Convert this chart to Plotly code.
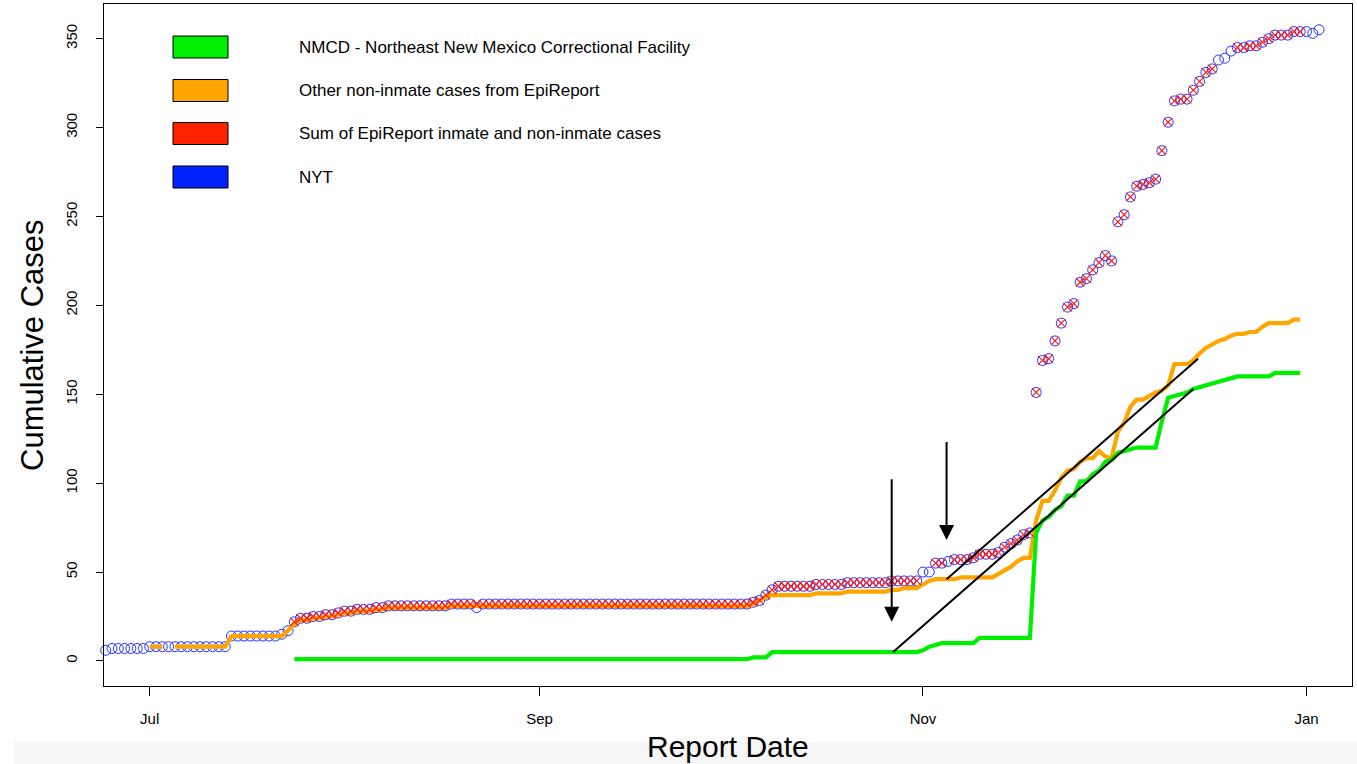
import plotly.graph_objects as go
import pandas as pd

# ---------------- data ----------------
nyt_start = "2020-06-24"
nyt_cases = [6, 7, 7, 7, 7, 7, 7,
             8, 8, 8, 8, 8, 8, 8, 8, 8, 8, 8, 8, 8,
             14, 14, 14, 14, 14, 14, 14, 14,
             15, 17,
             22, 24, 24, 25, 25, 26, 26, 27, 28, 28, 29, 29, 29, 30, 30, 31,
             31, 31, 31, 31, 31, 31, 31, 31, 31,
             32, 32, 32, 32, 30, 32, 32, 32, 32, 32, 32, 32, 32, 32, 32, 32,
             32, 32, 32, 32, 32, 32, 32, 32, 32, 32, 32, 32, 32, 32, 32, 32,
             32, 32, 32, 32, 32, 32, 32, 32, 32, 32, 32, 32, 32, 32, 32, 32,
             33, 34, 37, 40, 42, 42, 42, 42, 42, 42, 43, 43, 43, 43, 43,
             44, 44, 44, 44, 44, 44, 44, 45, 45, 45, 45, 45,
             50, 50, 55, 55, 56, 57, 57, 57, 58, 60, 60, 60, 61, 64, 66, 68, 71, 72,
             151, 169, 170, 180, 190, 199, 201, 213, 215, 220, 224, 228, 225, 247,
             251, 261, 267, 268, 269, 271, 287, 303, 315, 316, 316, 321, 326, 331, 333,
             338, 339, 343, 345, 345, 346, 346, 348, 350, 352, 352, 352, 354, 354,
             354, 353, 355]

epi_start = "2020-07-24"
sum_cases = [22, 24, 24, 25, 25, 26, 26, 27, 28, 28, 29, 29, 29, 30, 30, 31,
             31, 31, 31, 31, 31, 31, 31, 31, 31,
             32, 32, 32, 32, 32, 32, 32, 32, 32, 32, 32, 32, 32, 32, 32, 32,
             32, 32, 32, 32, 32, 32, 32, 32, 32, 32, 32, 32, 32, 32, 32, 32,
             32, 32, 32, 32, 32, 32, 32, 32, 32, 32, 32, 32, 32, 32, 32, 32,
             33, 34, 37, 40, 42, 42, 42, 42, 42, 42, 43, 43, 43, 43, 43,
             44, 44, 44, 44, 44, 44, 44, 45, 45, 45, 45, 45,
             None, None, 55, 55, None, 57, 57, 57, 58, 60, 60, 60, 61, 64, 66, 68, 71, 72,
             151, 169, 170, 180, 190, 199, 201, 213, 215, 220, 224, 228, 225, 247,
             251, 261, 267, 268, 269, 271, 287, 303, 315, 316, 316, 321, 326, 331, 333,
             None, None, None, 345, 345, 346, 346, 348, 350, 352, 352, 352, 354, 354]

other_start = "2020-07-01"
other_cases = [8, 8, 8, None, 8, 8, 8, 8, 8, 8, 8, 8, 8,
               14, 14, 14, 14, 14, 14, 14, 14, 14,
               17, 21,
               23, 23, 24, 24, 25, 25, 26, 27, 27, 28, 28, 28, 29, 29, 30,
               30, 30, 30, 30, 30, 30, 30, 30, 30,
               31, 31, 31, 31, 31, 31, 31, 31, 31, 31, 31, 31, 31, 31, 31, 31,
               31, 31, 31, 31, 31, 31, 31, 31, 31, 31, 31, 31, 31, 31, 31, 31,
               31, 31, 31, 31, 31, 31, 31, 31, 31, 31, 31, 31, 31, 31, 31, 31,
               32, 34, 36, 37, 37, 37, 37, 37, 37, 37, 38, 38, 38, 38, 38,
               39, 39, 39, 39, 39, 39, 39, 40, 40, 41, 41, 41,
               43, 45, 46, 46, 46, 46, 47, 47, 47, 47, 47, 47, 49, 51, 53, 56, 58, 58,
               79, 90, 90, 96, 103, 107, 108, 112, 114, 114, 118, 115, 114, 129,
               134, 143, 147, 147, 149, 151, 152, 155, 167, 167, 167, 169, 173, 176, 178,
               180, 181, 183, 184, 184, 185, 185, 188, 190, 190, 190, 190, 192, 192]

nmcd_start = "2020-07-24"
nmcd_cases = [1, 1, 1, 1, 1, 1, 1, 1, 1, 1, 1, 1, 1, 1, 1, 1, 1, 1, 1, 1,
              1, 1, 1, 1, 1, 1, 1, 1, 1, 1, 1, 1, 1, 1, 1, 1, 1, 1, 1, 1,
              1, 1, 1, 1, 1, 1, 1, 1, 1, 1, 1, 1, 1, 1, 1, 1, 1, 1, 1, 1,
              1, 1, 1, 1, 1, 1, 1, 1, 1, 1, 1, 1, 1,
              2, 2, 2,
              5, 5, 5, 5, 5, 5, 5, 5, 5, 5, 5, 5, 5, 5, 5, 5, 5, 5, 5, 5, 5, 5, 5, 5,
              6, 8, 9, 10, 10, 10, 10, 10, 10, 13, 13, 13, 13, 13, 13, 13, 13, 13,
              72, 79, 81, 85, 87, 93, 93, 101, 101, 105, 107, 112, 113, 117, 118,
              119, 120, 120, 120, 120, 135, 148, 149, 150, 151, 153, 154, 155, 156,
              157, 158, 159, 160, 160, 160, 160, 160, 160, 162, 162, 162, 162, 162]

# guide lines drawn on the figure
guide_lower_dates = ["2020-10-27 06:00", "2020-12-14 00:00"]
guide_lower_vals = [5, 153]
guide_upper_dates = ["2020-11-04 18:00", "2020-12-14 18:00"]
guide_upper_vals = [46, 170]

# arrows (date, tail value, head value)
arrow_dates = ["2020-10-27 00:30", "2020-11-04 18:00"]
arrow_tail_vals = [103, 124]
arrow_head_vals = [22, 68]

tick_dates = ["2020-07-01", "2020-09-01", "2020-11-01", "2021-01-01"]
tick_labels = ["Jul", "Sep", "Nov", "Jan"]
y_ticks = [0, 50, 100, 150, 200, 250, 300, 350]

legend_labels = ["NMCD - Northeast New Mexico Correctional Facility",
                 "Other non-inmate cases from EpiReport",
                 "Sum of EpiReport inmate and non-inmate cases",
                 "NYT"]
legend_colors = ["#00EE00", "#FFA500", "#FF2200", "#0022FF"]

# ---------------- figure ----------------
FONT = "Liberation Sans, Arial, sans-serif"
GREEN = "#00EE00"
ORANGE = "#FFA500"

nyt_dates = pd.date_range(nyt_start, periods=len(nyt_cases), freq="D")
sum_dates = pd.date_range(epi_start, periods=len(sum_cases), freq="D")
other_dates = pd.date_range(other_start, periods=len(other_cases), freq="D")
nmcd_dates = pd.date_range(nmcd_start, periods=len(nmcd_cases), freq="D")

fig = go.Figure()

fig.add_trace(go.Scatter(
    x=nyt_dates, y=nyt_cases, mode="markers", name="NYT", showlegend=False,
    cliponaxis=False,
    marker=dict(symbol="circle-open", size=10, color="#2233FF",
                line=dict(width=1, color="#2233FF"))))

fig.add_trace(go.Scatter(
    x=other_dates, y=other_cases, mode="lines", showlegend=False,
    connectgaps=False,
    line=dict(color=ORANGE, width=4.2)))

fig.add_trace(go.Scatter(
    x=nmcd_dates, y=nmcd_cases, mode="lines", showlegend=False,
    line=dict(color=GREEN, width=4.2)))

fig.add_trace(go.Scatter(
    x=sum_dates, y=sum_cases, mode="markers", showlegend=False,
    marker=dict(symbol="x-thin-open", size=8.5, color="#FF1111",
                line=dict(width=1.1, color="#FF1111"))))

fig.add_trace(go.Scatter(
    x=guide_lower_dates, y=guide_lower_vals, mode="lines", showlegend=False,
    line=dict(color="black", width=2)))
fig.add_trace(go.Scatter(
    x=guide_upper_dates, y=guide_upper_vals, mode="lines", showlegend=False,
    line=dict(color="black", width=2)))

annotations = []
for d, t, h in zip(arrow_dates, arrow_tail_vals, arrow_head_vals):
    annotations.append(dict(
        x=d, y=h, ax=d, ay=t, xref="x", yref="y", axref="x", ayref="y",
        text="", showarrow=True, arrowhead=2, arrowsize=1.5, arrowwidth=2,
        arrowcolor="black", standoff=0))

# legend drawn manually (rectangles + text), in pixel terms converted to paper
PL, PR, PT, PB = 104, 1352, 4, 686
def px(x):
    return (x - PL) / (PR - PL)
def py(y):
    return (PB - y) / (PB - PT)

# axis titles
annotations.append(dict(
    text="Cumulative Cases", x=px(32), y=0.5, xref="paper", yref="paper",
    textangle=-90, showarrow=False, xanchor="center", yanchor="middle",
    font=dict(family=FONT, size=31, color="black")))
annotations.append(dict(
    text="Report Date", x=0.5, y=py(746), xref="paper", yref="paper",
    showarrow=False, xanchor="center", yanchor="middle",
    font=dict(family=FONT, size=30, color="black")))

shapes = []
legend_rows_y = [47, 90.5, 133.5, 177]
for lab, col, yc in zip(legend_labels, legend_colors, legend_rows_y):
    shapes.append(dict(type="rect", xref="paper", yref="paper",
                       x0=px(173), x1=px(228), y0=py(yc + 11), y1=py(yc - 11),
                       fillcolor=col, line=dict(color="black", width=1),
                       layer="above"))
    annotations.append(dict(text=lab, x=px(297), y=py(yc), xref="paper",
                            yref="paper", showarrow=False, xanchor="left",
                            yanchor="middle",
                            font=dict(family=FONT, size=17, color="black")))

# light grey strip at the bottom of the image
shapes.append(dict(type="rect", xref="paper", yref="paper",
                   x0=px(14), x1=px(1357), y0=py(764), y1=py(742),
                   fillcolor="#F6F6F6", line=dict(width=0), layer="below"))

fig.update_layout(
    width=1357, height=764,
    margin=dict(l=PL, r=1357 - PR, t=PT, b=764 - PB),
    paper_bgcolor="white", plot_bgcolor="white",
    showlegend=False,
    font=dict(family=FONT, color="black"),
    annotations=annotations, shapes=shapes,
    xaxis=dict(
        type="date",
        range=["2020-06-23 17:30", "2021-01-08 05:45"],
        tickvals=tick_dates, ticktext=tick_labels,
        ticks="outside", ticklen=9, tickwidth=1, tickcolor="black",
        showline=True, linecolor="black", linewidth=1, mirror=True,
        showgrid=False, zeroline=False,
        ticklabelstandoff=10,
        tickfont=dict(family=FONT, size=15, color="black")),
    yaxis=dict(
        range=[-14.1, 369.5],
        tickvals=y_ticks,
        ticks="outside", ticklen=7, tickwidth=1, tickcolor="black",
        showline=True, linecolor="black", linewidth=1, mirror=True,
        showgrid=False, zeroline=False,
        tickangle=-90,
        ticklabelstandoff=13,
        tickfont=dict(family=FONT, size=15, color="black")),
)

fig.write_html("out.html")
